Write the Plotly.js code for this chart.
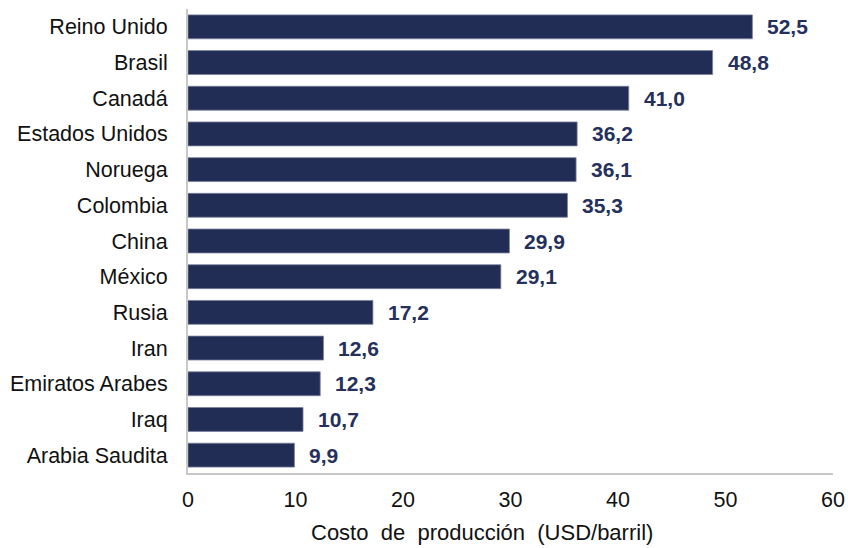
<!DOCTYPE html>
<html>
<head>
<meta charset="utf-8">
<script src="https://cdn.plot.ly/plotly-3.0.1.min.js"></script>
<style>html,body{margin:0;padding:0;background:#fff;}#chart{width:848px;height:548px;}</style>
</head>
<body>
<div id="chart"></div>
<script>
const countries = ["Reino Unido","Brasil","Canadá","Estados Unidos","Noruega","Colombia","China","México","Rusia","Iran","Emiratos Arabes","Iraq","Arabia Saudita"];
const costs = [52.5,48.8,41.0,36.2,36.1,35.3,29.9,29.1,17.2,12.6,12.3,10.7,9.9];
const xTicks = [0,10,20,30,40,50,60];
const xTitle = "Costo\u00a0 de\u00a0 producción\u00a0 (USD/barril)";

const fmt = v => v.toFixed(1).replace('.', ',');
const navy = '#222d56';
const FONT = 'Liberation Sans, Arial, sans-serif';

const trace = {
  type: 'bar',
  orientation: 'h',
  y: countries,
  x: costs,
  marker: {color: navy, line: {color: '#7a819c', width: 0.8}},
  hoverinfo: 'skip'
};

const annotations = costs.map((v, i) => ({
  x: v, y: countries[i], xref: 'x', yref: 'y',
  text: '<b>' + fmt(v) + '</b>',
  showarrow: false, xanchor: 'left', yanchor: 'middle', xshift: 13,
  font: {family: FONT, size: 21, color: '#25305c'}
}));
annotations.push({
  xref: 'paper', yref: 'paper', x: 0.456, y: 0, yshift: -59,
  text: xTitle, showarrow: false, xanchor: 'center', yanchor: 'middle',
  font: {family: FONT, size: 22, color: '#111'}
});

const layout = {
  width: 848, height: 548,
  margin: {l: 188, r: 15, t: 9, b: 75},
  paper_bgcolor: '#fff', plot_bgcolor: '#fff',
  showlegend: false,
  bargap: 0.33,
  font: {family: FONT, size: 21, color: '#111'},
  xaxis: {
    range: [0, 60], tickvals: xTicks, ticktext: xTicks.map(String),
    showgrid: false, zeroline: false,
    showline: true, linecolor: '#c8c8c8', linewidth: 2,
    ticks: '', ticklabelstandoff: 6,
    tickfont: {family: FONT, size: 21.5, color: '#111'},
    fixedrange: true
  },
  yaxis: {
    autorange: 'reversed', type: 'category',
    showgrid: false, zeroline: false,
    showline: true, linecolor: '#c8c8c8', linewidth: 2,
    ticks: '', ticklabelstandoff: 14,
    tickfont: {family: FONT, size: 21.5, color: '#111'},
    fixedrange: true
  },
  annotations: annotations
};

Plotly.newPlot('chart', [trace], layout, {displayModeBar: false, staticPlot: true});
</script>
</body>
</html>
